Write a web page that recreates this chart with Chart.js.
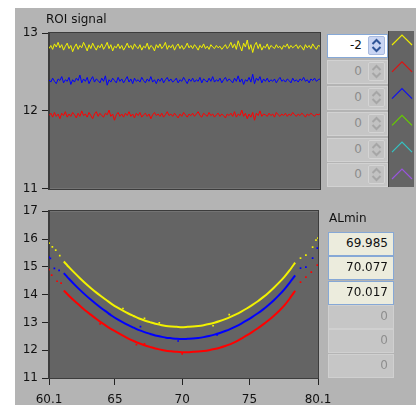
<!DOCTYPE html>
<html>
<head>
<meta charset="utf-8">
<script src="https://cdn.jsdelivr.net/npm/chart.js@4/dist/chart.umd.min.js"></script>
<style>
  html, body { margin: 0; padding: 0; background: #ffffff; }
  body { width: 416px; height: 405px; position: relative; overflow: hidden; font-family: "DejaVu Sans", sans-serif; font-size: 12px; color: #111; }
  #panel { position: absolute; left: 15px; top: 8px; width: 401px; height: 397px; background: #b4b4b4; }
  canvas { position: absolute; }
  #cTop { left: 0; top: 0; }
  #cBot { left: 0; top: 200px; }
  .lbl { position: absolute; white-space: nowrap; }
  .num { position: absolute; box-sizing: border-box; text-align: right; line-height: 21px; }
  .num.on { background: #ffffff; border: 1px solid #86a8d6; }
  .num.off { background: #c6c6c6; border: 1px solid #d2d2d2; color: #8c8c8c; }
  .spin { position: absolute; box-sizing: border-box; width: 17px; height: 19px; top: 1px; right: 2px; border-radius: 2px; }
  .num.on .spin { background: #c9d5f3; border: 1px solid #a8badf; }
  .num.off .spin { background: #c2c2c2; border: 1px solid #d4d4d4; }
  .ind { position: absolute; box-sizing: border-box; text-align: right; line-height: 21px; padding-right: 5px; }
  .ind.on { background: #ececdd; border: 1px solid #86a8d6; }
  .ind.off { background: #c6c6c6; border: 1px solid #d0d0d0; color: #8e8e8e; }
  #strip { position: absolute; left: 388px; top: 31px; width: 26px; height: 156px; background: #646464; border-left: 1px solid #3e3e3e; box-sizing: border-box; }
</style>
</head>
<body>
<div id="panel"></div>
<canvas id="cTop" width="322" height="200"></canvas>
<canvas id="cBot" width="345" height="205"></canvas>
<div class="lbl" style="left:46px; top:12px;">ROI signal</div>
<div class="lbl" style="left:329px; top:211px;">ALmin</div>
<div id="controls"></div>
<div id="strip"><svg width="25" height="156" id="chev"></svg></div>
<script>
// ---------------- data ----------------
const topYellow = [12.80,12.84,12.79,12.86,12.82,12.88,12.81,12.85,12.78,12.83,
12.87,12.80,12.84,12.76,12.82,12.86,12.79,12.84,12.81,12.88,
12.83,12.77,12.85,12.80,12.87,12.82,12.78,12.84,12.81,12.86,
12.79,12.83,12.88,12.80,12.85,12.77,12.83,12.81,12.86,12.80,
12.84,12.78,12.82,12.87,12.81,12.84,12.79,12.86,12.82,12.80,
12.85,12.78,12.83,12.81,12.87,12.79,12.84,12.82,12.77,12.85,
12.81,12.86,12.80,12.83,12.88,12.79,12.84,12.81,12.85,12.78,
12.83,12.86,12.80,12.84,12.79,12.82,12.87,12.81,12.84,12.80,
12.85,12.82,12.78,12.84,12.81,12.86,12.80,12.83,12.79,12.85,
12.82,12.80,12.84,12.81,12.83,12.79,12.82,12.85,12.80,12.83,
12.88,12.81,12.86,12.79,12.90,12.83,12.77,12.87,12.82,12.91,
12.79,12.85,12.75,12.84,12.88,12.80,12.86,12.78,12.83,12.81,
12.86,12.79,12.84,12.82,12.80,12.85,12.81,12.83,12.79,12.84,
12.82,12.86,12.80,12.84,12.81,12.83,12.85,12.80,12.84,12.82,
12.78,12.85,12.81,12.84,12.80,12.86,12.82,12.79,12.84,12.83];
const topBlue = [12.40,12.37,12.42,12.38,12.35,12.41,12.39,12.44,12.36,12.40,
12.38,12.43,12.34,12.40,12.37,12.42,12.39,12.46,12.36,12.41,
12.38,12.43,12.35,12.40,12.44,12.37,12.41,12.39,12.36,12.42,
12.38,12.45,12.33,12.40,12.37,12.42,12.39,12.36,12.43,12.38,
12.41,12.36,12.40,12.44,12.37,12.41,12.35,12.42,12.38,12.40,
12.37,12.43,12.39,12.36,12.41,12.38,12.44,12.37,12.40,12.35,
12.41,12.38,12.42,12.36,12.40,12.43,12.38,12.41,12.37,12.39,
12.42,12.36,12.40,12.38,12.43,12.39,12.35,12.41,12.38,12.42,
12.37,12.40,12.38,12.43,12.36,12.41,12.39,12.37,12.42,12.38,
12.44,12.37,12.40,12.38,12.42,12.36,12.40,12.43,12.38,12.41,
12.39,12.36,12.42,12.38,12.45,12.37,12.41,12.34,12.40,12.38,
12.43,12.37,12.47,12.35,12.42,12.39,12.44,12.36,12.41,12.38,
12.42,12.37,12.40,12.38,12.41,12.36,12.40,12.43,12.38,12.40,
12.37,12.41,12.39,12.36,12.42,12.38,12.40,12.37,12.41,12.39,
12.43,12.38,12.40,12.36,12.41,12.39,12.42,12.38,12.40,12.41];
const topRed = [11.94,11.97,11.92,11.98,11.93,11.96,11.90,11.97,11.94,11.99,
11.92,11.96,11.93,11.98,11.95,11.91,11.97,11.93,12.00,11.94,
11.96,11.92,11.98,11.94,11.90,11.96,11.99,11.93,11.97,11.94,
11.92,11.97,11.95,12.01,11.93,11.96,11.88,11.95,11.98,11.93,
11.96,11.92,11.97,11.94,11.99,11.93,11.96,11.91,11.97,11.94,
11.98,11.92,11.95,11.97,11.93,11.96,11.90,11.95,11.98,11.94,
11.96,11.93,11.97,11.92,11.95,11.99,11.94,11.96,11.93,11.97,
11.94,11.91,11.96,11.93,11.98,11.95,11.92,11.96,11.94,11.97,
11.93,11.96,11.99,11.94,11.92,11.97,11.95,11.93,11.98,11.94,
11.96,11.92,11.95,11.97,11.93,11.96,11.94,11.91,11.96,11.94,
11.97,11.93,11.99,11.92,11.96,11.94,12.01,11.93,11.97,11.90,
11.96,11.92,11.98,11.88,11.97,11.94,12.00,11.93,11.96,11.95,
11.93,11.97,11.94,11.96,11.92,11.98,11.95,11.93,11.96,11.94,
11.97,11.93,11.96,11.94,11.98,11.95,11.93,11.96,11.94,11.97,
11.95,11.92,11.96,11.94,11.97,11.95,11.93,11.96,11.95,11.96];
const topYTicks = [11, 12, 13];

const curveX = [61.2,61.6,62.0,62.4,62.8,63.2,63.6,64.0,64.4,64.8,65.2,65.6,66.0,66.4,66.8,67.2,67.6,68.0,68.4,68.8,69.2,69.6,70.0,
70.4,70.8,71.2,71.6,72.0,72.4,72.8,73.2,73.6,74.0,74.4,74.8,75.2,75.6,76.0,76.4,76.8,77.2,77.6,78.0,78.4];
const curveYellow = [15.19,14.98,14.78,14.59,14.41,14.24,14.08,13.93,13.79,13.65,13.53,13.42,13.32,13.23,13.14,13.07,13.01,12.95,12.91,12.87,12.85,12.84,12.83,
12.84,12.85,12.87,12.90,12.94,12.99,13.05,13.12,13.20,13.29,13.39,13.50,13.62,13.75,13.90,14.06,14.24,14.43,14.64,14.88,15.15];
const curveBlue = [14.77,14.56,14.36,14.17,13.99,13.82,13.66,13.51,13.37,13.23,13.11,13.00,12.90,12.81,12.72,12.65,12.59,12.53,12.49,12.45,12.43,12.41,12.40,
12.41,12.42,12.44,12.47,12.51,12.56,12.62,12.69,12.77,12.86,12.96,13.07,13.19,13.32,13.46,13.62,13.79,13.98,14.19,14.43,14.69];
const curveRed = [14.15,13.95,13.77,13.60,13.43,13.28,13.13,12.99,12.86,12.74,12.63,12.52,12.42,12.33,12.25,12.18,12.12,12.06,12.02,11.98,11.96,11.94,11.93,
11.93,11.94,11.95,11.97,12.00,12.04,12.09,12.15,12.22,12.31,12.42,12.53,12.65,12.78,12.92,13.07,13.23,13.41,13.61,13.86,14.14];

const dotsYellowX = [60.1,60.35,60.6,60.9,65.6,67.2,68.3,72.3,73.5,78.8,79.2,79.7,79.95,80.1];
const dotsYellowY = [15.85,15.72,15.60,15.40,13.50,13.15,12.98,12.88,13.28,15.31,15.42,15.71,15.96,16.03];
const dotsBlueX = [60.1,60.2,60.5,60.85,64.6,66.9,69.7,72.6,78.8,79.2,79.7,80.05];
const dotsBlueY = [15.35,15.30,14.94,14.87,13.30,12.85,12.33,12.55,14.95,14.99,15.31,15.67];
const dotsRedX = [60.1,60.3,60.7,61.0,63.9,66.6,67.2,70.0,78.8,79.2,79.6,80.05];
const dotsRedY = [14.90,14.70,14.48,14.41,12.95,12.20,12.23,11.87,14.45,14.63,14.81,15.06];

const botXTicks = [60.1, 65, 70, 75, 80.1];
const botXTickLabels = ["60.1", "65", "70", "75", "80.1"];
const botYTicks = [11, 12, 13, 14, 15, 16, 17];

const offsetValues = ["-2", "0", "0", "0", "0", "0"];
const alminValues = ["69.985", "70.077", "70.017", "0", "0", "0"];
const plotColors = ["#ecec00", "#e01010", "#1010f0", "#66cc00", "#33c4c4", "#9955dd"];

// ---------------- styles ----------------
const YEL = "#f2f200", RED = "#ff0000", BLU = "#0000ff";
const FONT = { family: "DejaVu Sans", size: 12 };
const plotBg = {
  id: "plotBg",
  beforeDraw(chart) {
    const a = chart.chartArea, c = chart.ctx;
    c.save(); c.fillStyle = "#646464"; c.fillRect(a.left, a.top, a.right - a.left, a.bottom - a.top); c.restore();
  },
  afterDraw(chart) {
    const a = chart.chartArea, c = chart.ctx;
    c.save(); c.strokeStyle = "#3c3c3c"; c.lineWidth = 1;
    c.strokeRect(Math.round(a.left) - 0.5, Math.round(a.top) - 0.5, Math.round(a.right - a.left) + 1, Math.round(a.bottom - a.top) + 1);
    c.restore();
  }
};
Chart.defaults.animation = false;
Chart.defaults.font.family = "DejaVu Sans";

function lineSet(arr, color) {
  return { data: arr.map((v, i) => ({ x: i, y: v })), borderColor: color, borderWidth: 1, pointRadius: 0, tension: 0, fill: false };
}
function yAxis(min, max, ticksArr) {
  return {
    min: min, max: max,
    afterBuildTicks: s => { s.ticks = ticksArr.map(v => ({ value: v })); },
    afterFit: s => { s.width = 49; },
    ticks: { font: FONT, color: "#111", padding: 4 },
    grid: { drawOnChartArea: false, drawTicks: true, tickLength: 7, color: "#222" },
    border: { display: true, color: "#3c3c3c" }
  };
}

new Chart(document.getElementById("cTop"), {
  type: "line",
  data: { datasets: [lineSet(topYellow, YEL), lineSet(topBlue, BLU), lineSet(topRed, RED)] },
  options: {
    responsive: false,
    layout: { padding: { top: 33, right: 2, bottom: 7, left: 0 } },
    plugins: { legend: { display: false }, tooltip: { enabled: false } },
    scales: {
      x: { type: "linear", display: false, min: 0, max: topYellow.length - 1 },
      y: yAxis(11, 13, topYTicks)
    }
  },
  plugins: [plotBg]
});

function curveSet(ys, color) {
  return { type: "line", data: curveX.map((x, i) => ({ x: x, y: ys[i] })), borderColor: color, borderWidth: 2, pointRadius: 0, tension: 0.2, fill: false };
}
function dotSet(xs, ys, color) {
  return { type: "scatter", data: xs.map((x, i) => ({ x: x, y: ys[i] })), backgroundColor: color, borderColor: color, borderWidth: 0, pointStyle: "rect", pointRadius: 1.2, showLine: false };
}

new Chart(document.getElementById("cBot"), {
  type: "scatter",
  data: { datasets: [
    curveSet(curveYellow, YEL), curveSet(curveBlue, BLU), curveSet(curveRed, RED),
    dotSet(dotsYellowX, dotsYellowY, YEL), dotSet(dotsBlueX, dotsBlueY, BLU), dotSet(dotsRedX, dotsRedY, RED)
  ] },
  options: {
    responsive: false,
    layout: { padding: { top: 11, right: 27, bottom: 0, left: 0 } },
    plugins: { legend: { display: false }, tooltip: { enabled: false } },
    scales: {
      x: {
        type: "linear", min: 60.1, max: 80.1,
        afterBuildTicks: s => { s.ticks = botXTicks.map(v => ({ value: v })); },
        afterFit: s => { s.height = 27; },
        ticks: { font: FONT, color: "#111", padding: 8, maxRotation: 0, autoSkip: false,
                 callback: (v) => { const k = botXTicks.indexOf(v); return k >= 0 ? botXTickLabels[k] : ""; } },
        grid: { drawOnChartArea: false, drawTicks: true, tickLength: 7, color: "#222" },
        border: { display: true, color: "#3c3c3c" }
      },
      y: yAxis(11, 17, botYTicks)
    }
  },
  plugins: [plotBg]
});

// ---------------- side controls ----------------
const ctl = document.getElementById("controls");
const numTops = [34, 60, 86, 112, 138, 163];
const arrowSvg = (col) => '<svg width="15" height="17" style="position:absolute;left:0;top:0"><polyline points="3.5,7 7.5,3 11.5,7" fill="none" stroke="' + col + '" stroke-width="2"/><polyline points="3.5,10 7.5,14 11.5,10" fill="none" stroke="' + col + '" stroke-width="2"/></svg>';
offsetValues.forEach((v, i) => {
  const on = i === 0;
  const d = document.createElement("div");
  d.className = "num " + (on ? "on" : "off");
  d.style.cssText = "left:327px;top:" + numTops[i] + "px;width:61px;height:24px;padding-right:25px;";
  d.innerHTML = '<span>' + v + '</span><div class="spin">' + arrowSvg(on ? "#2f5597" : "#a6a6a6") + '</div>';
  ctl.appendChild(d);
});
const indTops = [232, 256, 281, 305, 329, 354];
alminValues.forEach((v, i) => {
  const on = i < 3;
  const d = document.createElement("div");
  d.className = "ind " + (on ? "on" : "off");
  d.style.cssText = "left:328px;top:" + indTops[i] + "px;width:66px;height:24px;";
  d.textContent = v;
  ctl.appendChild(d);
});
const chev = document.getElementById("chev");
let s = "";
plotColors.forEach((c, i) => {
  const py = 4 + i * 26.8;
  s += '<polyline points="3,' + (py + 10) + ' 13,' + py + ' 23,' + (py + 10) + '" fill="none" stroke="' + c + '" stroke-width="1.2"/>';
});
chev.innerHTML = s;
</script>
</body>
</html>
